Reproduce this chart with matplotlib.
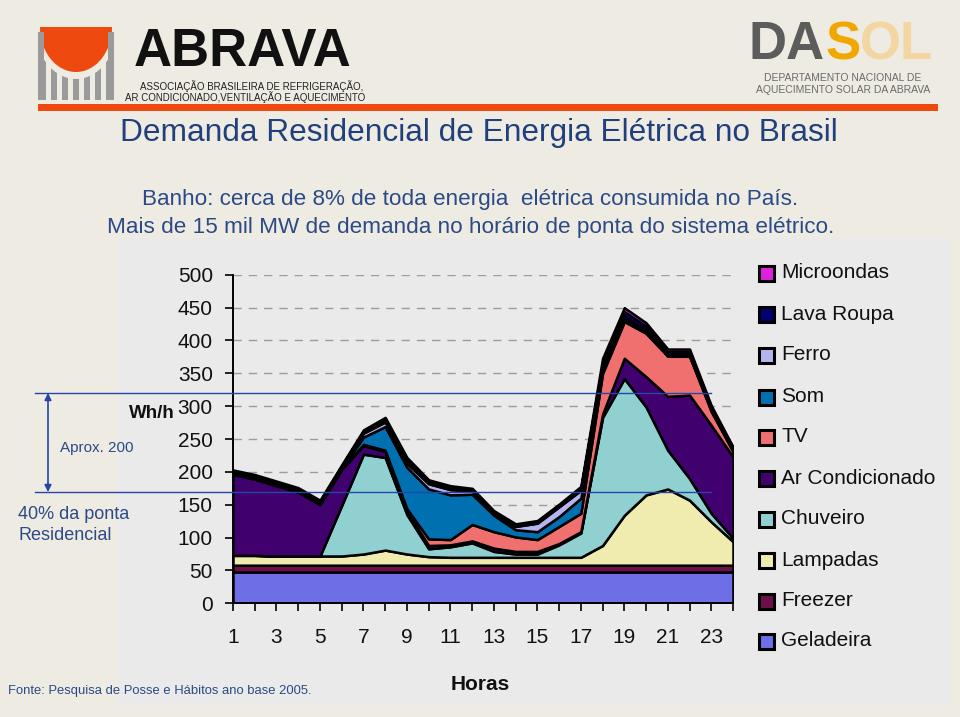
import matplotlib
matplotlib.use('Agg')
import matplotlib.pyplot as plt
from matplotlib.patches import Rectangle, Ellipse

# -----------------------------------------------------------------------------
# dados (Wh/h por hora, cada uso final)
# -----------------------------------------------------------------------------
hours = list(range(1, 25))
xtick_labels = [str(h) if h % 2 == 1 else '' for h in hours]

geladeira   = [47] * 24
freezer     = [11] * 24
lampadas    = [15, 15, 14, 14, 14, 14, 17, 23, 17, 13, 12, 12, 12, 12, 12, 12, 12, 30, 76, 107, 116, 99, 66, 36]
chuveiro    = [0, 0, 0, 0, 0, 77, 152, 141, 60, 12, 16, 22, 9, 5, 5, 19, 37, 195, 208, 134, 59, 33, 13, 5]
ar_cond     = [123, 116, 107, 97, 78, 55, 13, 9, 5, 5, 3, 3, 5, 4, 4, 2, 2, 5, 31, 46, 82, 127, 134, 124]
tv          = [1, 1, 1, 1, 1, 1, 2, 2, 4, 10, 8, 25, 25, 22, 18, 26, 28, 62, 56, 66, 61, 59, 21, 8]
som         = [1, 1, 1, 1, 1, 1, 11, 36, 63, 76, 68, 46, 25, 11, 12, 15, 23, 4, 4, 3, 2, 2, 2, 2]
ferro       = [1, 1, 1, 1, 1, 1, 6, 7, 6, 8, 8, 5, 3, 5, 13, 15, 12, 3, 3, 2, 1, 1, 1, 1]
lava_roupa  = [2, 2, 2, 2, 2, 2, 3, 4, 4, 3, 3, 2, 2, 2, 2, 2, 3, 8, 8, 6, 4, 4, 3, 2]
microondas  = [2, 2, 2, 2, 2, 2, 2, 3, 5, 3, 3, 2, 2, 2, 2, 2, 3, 8, 6, 5, 4, 4, 3, 2]

series = [geladeira, freezer, lampadas, chuveiro, ar_cond, tv, som, ferro, lava_roupa, microondas]
names = ['Geladeira', 'Freezer', 'Lampadas', 'Chuveiro', 'Ar Condicionado',
         'TV', 'Som', 'Ferro', 'Lava Roupa', 'Microondas']
colors = ['#6E6EE6', '#6E1048', '#F0ECB0', '#90D0D0', '#40006E',
          '#F07070', '#0070B0', '#B4B4F0', '#000070', '#E020E0']

plain = ['Liberation Sans', 'DejaVu Sans']
blue = '#2346A8'
textblue = '#2B4A86'
beige = '#EEEBE3'

fig = plt.figure(figsize=(9.6, 7.17), dpi=100, facecolor=beige)

# fundo / logos em coordenadas de pixel
bg = fig.add_axes([0, 0, 1, 1], zorder=0)
bg.set_xlim(0, 960)
bg.set_ylim(717, 0)
bg.axis('off')
bg.add_patch(Rectangle((118, 238), 832, 467, color='#EAEAEA', lw=0))

# ABRAVA
for bx in [40, 51, 62, 73, 84, 95, 106]:
    bg.add_patch(Rectangle((bx, 32), 6, 68, color='#9A9A9A', lw=0))
halo = Ellipse((76, 27), 82, 104, color=beige, lw=0)
sun = Ellipse((76, 27), 72, 90, color='#EE4A10', lw=0)
for p in (halo, sun):
    bg.add_patch(p)
    p.set_clip_path(Rectangle((30, 27), 100, 60, transform=bg.transData))
bg.add_patch(Rectangle((38, 32), 6, 68, color='#9A9A9A', lw=0))
bg.add_patch(Rectangle((108, 32), 6, 68, color='#9A9A9A', lw=0))
bg.text(243, 52, 'ABRAVA', family=plain, weight='bold', fontsize=38,
        ha='center', va='center', color='#111111')
bg.text(140, 86, 'ASSOCIAÇÃO BRASILEIRA DE REFRIGERAÇÃO,', family=plain,
        fontsize=7, va='center', color='#222222')
bg.text(125, 97, 'AR CONDICIONADO,VENTILAÇÃO E AQUECIMENTO', family=plain,
        fontsize=7, va='center', color='#222222')
bg.add_patch(Rectangle((38, 104), 900, 7, color='#EE4A10', lw=0))

# DASOL
bg.text(748, 45, 'DA', family=plain, weight='bold', fontsize=38,
        va='center', color='#5C5C5C')
bg.text(825, 45, 'S', family=plain, weight='bold', fontsize=38,
        va='center', color='#F0A800')
bg.text(860, 45, 'OL', family=plain, weight='bold', fontsize=38,
        va='center', color='#F3D6A2')
bg.text(843, 78, 'DEPARTAMENTO NACIONAL DE', family=plain, fontsize=7.5,
        ha='center', va='center', color='#6A6A6A')
bg.text(843, 90, 'AQUECIMENTO SOLAR DA ABRAVA', family=plain, fontsize=7.5,
        ha='center', va='center', color='#6A6A6A')

# titulos
bg.text(479, 133, 'Demanda Residencial de Energia Elétrica no Brasil',
        family=plain, fontsize=22.8, ha='center', va='center', color='#203F7C')
bg.text(470, 200, 'Banho: cerca de 8% de toda energia  elétrica consumida no País.',
        family=plain, fontsize=16.2, ha='center', va='center', color=textblue)
bg.text(471, 228, 'Mais de 15 mil MW de demanda no horário de ponta do sistema elétrico.',
        family=plain, fontsize=16.2, ha='center', va='center', color=textblue)

# -----------------------------------------------------------------------------
# grafico
# -----------------------------------------------------------------------------
ax = fig.add_axes([233 / 960, 1 - 603.3 / 717, 500 / 960, 328.5 / 717], zorder=1)
ax.set_facecolor('none')
ax.stackplot(hours, series, colors=colors, edgecolor='black', linewidth=1.8)
ax.set_xlim(1, 24)
ax.set_ylim(0, 500)
ax.set_yticks(range(0, 501, 50))
ax.set_xticks(hours)
ax.set_xticklabels(xtick_labels)
ax.yaxis.grid(True, linestyle=(0, (6, 5)), color='#9C9C9C', lw=1)
ax.set_axisbelow(True)
for s in ['top', 'right']:
    ax.spines[s].set_visible(False)
for s in ['left', 'bottom']:
    ax.spines[s].set_linewidth(1.4)
ax.tick_params(axis='x', direction='out', length=6, width=1.2, pad=12)
ax.tick_params(axis='y', direction='out', length=6, width=1.2, pad=8.5)
for lbl in ax.get_xticklabels() + ax.get_yticklabels():
    lbl.set_family(plain)
    lbl.set_fontsize(15)
    lbl.set_color('#111111')

# -----------------------------------------------------------------------------
# legenda, rotulos e anotacao por cima
# -----------------------------------------------------------------------------
over = fig.add_axes([0, 0, 1, 1], zorder=2)
over.set_xlim(0, 960)
over.set_ylim(717, 0)
over.axis('off')

leg_y = [641, 601, 560, 519, 478, 437, 397, 355, 314, 273]
for name, col, y in zip(names, colors, leg_y):
    over.add_patch(Rectangle((759, y - 7.5), 15, 15, facecolor=col,
                             edgecolor='black', lw=2.2))
    over.text(781, y, name, family=plain, fontsize=15, va='center',
              color='#111111')

over.text(152, 413, 'Wh/h', family=plain, weight='bold', fontsize=13.5,
          ha='center', va='center', color='#111111')
over.text(480, 685, 'Horas', family=plain, weight='bold', fontsize=15,
          ha='center', va='center', color='#111111')

over.plot([35, 711], [393, 393], color=blue, lw=1)
over.plot([35, 711], [492, 492], color=blue, lw=1)
over.annotate('', xy=(48, 393), xytext=(48, 492),
              arrowprops=dict(arrowstyle='<|-|>', color=blue, lw=1.2,
                              mutation_scale=10, shrinkA=0, shrinkB=0))
over.text(60, 448, 'Aprox. 200', family=plain, fontsize=11,
          va='center', color=textblue)
over.text(18, 525, '40% da ponta\nResidencial', family=plain, fontsize=13,
          va='center', color=textblue, linespacing=1.3)
over.text(8, 691, 'Fonte: Pesquisa de Posse e Hábitos ano base 2005.',
          family=plain, fontsize=9.4, va='center', color=textblue)

fig.savefig('out.png', dpi=100, facecolor=fig.get_facecolor())
